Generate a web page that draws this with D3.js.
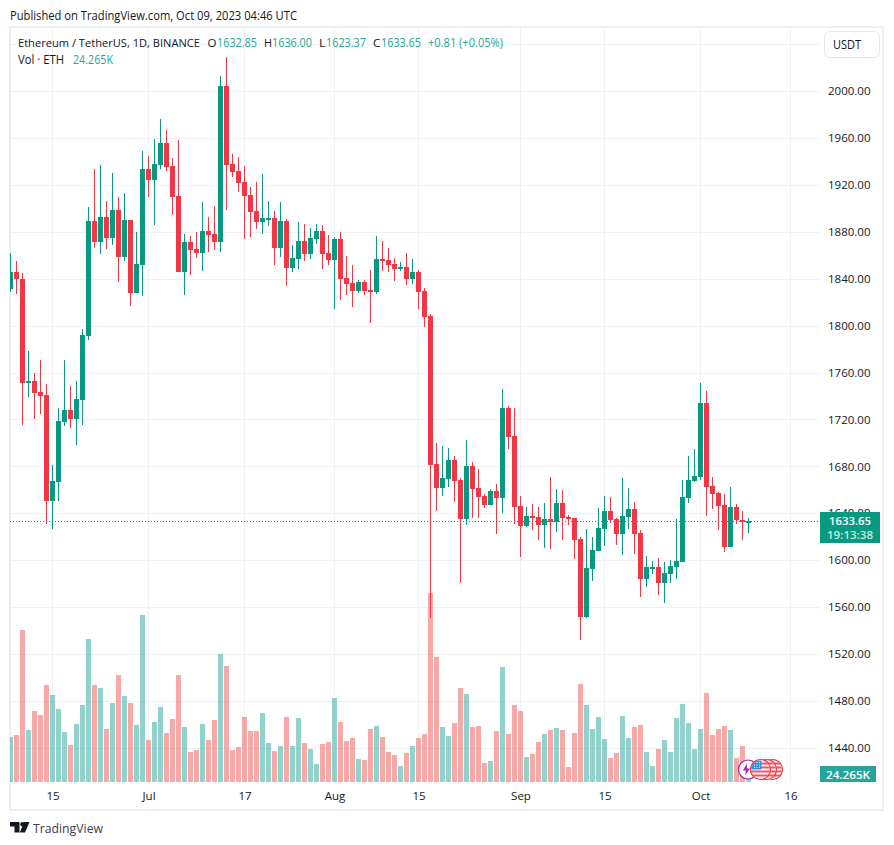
<!DOCTYPE html>
<html>
<head>
<meta charset="utf-8">
<style>
html,body{margin:0;padding:0;background:#fff;}
svg{display:block;}
text{font-family:"Open Sans","Noto Sans",sans-serif;}
</style>
<script src="https://cdn.jsdelivr.net/npm/d3@7/dist/d3.min.js"></script>
</head>
<body>
<div id="chart"></div>
<script>
const firstDay = "2023-06-08";
const opens = [1831.2,1845.7,1840.0,1751.1,1752.8,1743.4,1740.9,1650.5,1666.7,1717.9,1728.1,1720.4,1736.6,1791.1,1889.2,1871.3,1892.6,1874.7,1898.6,1858.5,1890.0,1827.8,1851.7,1933.5,1924.1,1936.9,1955.7,1936.1,1910.5,1845.7,1871.3,1865.3,1861.9,1880.7,1878.1,1871.3,2004.3,1937.8,1931.8,1922.4,1911.3,1897.7,1888.3,1890.9,1891.7,1866.2,1889.2,1849.1,1856.8,1872.1,1861.1,1873.8,1880.7,1861.9,1855.9,1873.8,1840.6,1836.3,1829.5,1837.2,1830.4,1828.7,1856.8,1855.9,1852.5,1848.3,1850.0,1839.7,1845.7,1829.5,1808.2,1682.0,1661.6,1669.2,1685.4,1668.4,1635.2,1680.3,1661.6,1654.7,1647.1,1659.0,1653.0,1729.8,1705.9,1646.2,1629.2,1637.7,1636.9,1630.0,1635.2,1632.6,1648.8,1636.9,1636.0,1618.1,1551.6,1592.5,1607.9,1626.6,1642.0,1635.2,1622.4,1636.9,1643.7,1623.2,1584.0,1592.5,1594.2,1580.6,1588.3,1594.2,1598.5,1653.0,1667.5,1670.9,1734.0,1663.3,1657.3,1647.1,1611.3,1645.4,1634.3,1632.85];
const highs = [1861.9,1855.1,1844.9,1778.4,1759.6,1770.7,1750.2,1681.2,1729.8,1770.7,1748.5,1752.8,1797.1,1901.1,1933.5,1936.9,1906.2,1930.1,1909.6,1913.0,1890.0,1879.8,1948.8,1944.6,1959.1,1976.1,1966.7,1942.9,1958.2,1878.1,1876.4,1879.8,1905.4,1892.6,1902.0,2012.8,2029.0,1946.3,1943.7,1936.1,1918.2,1922.4,1929.2,1906.2,1897.7,1905.4,1890.9,1868.7,1888.3,1886.6,1883.2,1886.6,1885.8,1877.2,1875.5,1879.8,1859.3,1851.7,1838.9,1838.9,1847.4,1876.4,1872.1,1866.2,1857.6,1854.2,1861.9,1856.8,1847.4,1832.1,1809.9,1699.9,1697.4,1695.7,1688.9,1670.1,1702.5,1683.7,1677.8,1656.4,1660.7,1665.0,1746.0,1731.5,1729.8,1654.7,1645.4,1647.9,1645.4,1648.8,1670.9,1660.7,1659.9,1638.6,1636.0,1619.8,1626.6,1619.8,1644.5,1654.7,1653.9,1636.0,1670.1,1661.6,1649.6,1625.8,1603.6,1599.4,1601.9,1598.5,1600.2,1635.2,1668.4,1688.9,1694.8,1751.1,1744.3,1670.9,1658.2,1656.4,1662.4,1647.9,1642.0,1636.0];
const lows = [1828.7,1826.9,1715.3,1739.1,1720.4,1724.7,1630.9,1626.6,1650.5,1714.5,1712.7,1698.2,1715.3,1787.7,1866.2,1861.1,1865.3,1868.7,1837.2,1855.1,1816.7,1827.8,1825.2,1909.6,1885.8,1933.5,1931.8,1894.3,1845.7,1826.1,1843.1,1857.6,1846.6,1862.8,1864.5,1862.8,1898.6,1926.7,1913.9,1873.8,1875.5,1882.4,1878.1,1884.9,1851.7,1858.5,1833.8,1845.7,1848.3,1855.1,1856.8,1869.6,1848.3,1851.7,1814.2,1821.8,1826.1,1815.9,1827.8,1826.1,1802.2,1826.9,1846.6,1845.7,1838.0,1846.6,1834.6,1835.5,1814.2,1798.8,1550.8,1642.0,1654.7,1662.4,1649.6,1580.6,1630.0,1636.0,1636.0,1644.5,1647.1,1622.4,1640.3,1694.8,1630.9,1602.8,1628.3,1625.8,1617.2,1610.4,1609.6,1624.1,1617.2,1630.0,1601.0,1532.0,1550.8,1582.3,1607.9,1612.1,1631.7,1613.0,1604.5,1626.6,1605.3,1568.7,1577.2,1588.3,1570.4,1563.6,1580.6,1584.0,1598.5,1648.8,1666.7,1668.4,1637.7,1643.7,1625.8,1607.0,1611.3,1630.9,1617.2,1623.37];
const closes = [1845.7,1840.0,1751.3,1752.8,1742.6,1740.0,1650.5,1667.5,1718.7,1728.1,1720.4,1737.4,1792.0,1889.2,1871.3,1892.6,1874.7,1898.6,1858.5,1890.0,1827.8,1852.5,1933.5,1924.1,1937.8,1955.7,1935.2,1909.6,1845.7,1871.3,1864.5,1861.9,1880.7,1877.2,1871.3,2004.3,1936.9,1931.0,1921.6,1910.5,1896.8,1888.3,1891.7,1891.7,1866.2,1889.2,1849.1,1857.6,1872.1,1861.1,1874.7,1880.7,1861.1,1855.9,1873.8,1839.7,1835.5,1829.5,1837.2,1829.5,1828.7,1856.8,1855.1,1851.7,1848.3,1850.0,1839.7,1845.7,1828.7,1807.4,1681.2,1661.6,1670.1,1685.4,1667.5,1635.2,1680.3,1660.7,1653.9,1647.1,1659.0,1653.0,1729.8,1705.1,1645.4,1629.2,1637.7,1636.0,1630.0,1635.2,1632.6,1648.8,1636.0,1635.2,1617.2,1551.6,1593.4,1608.7,1627.5,1642.0,1634.3,1622.4,1637.7,1643.7,1622.4,1584.0,1594.2,1594.2,1580.6,1589.1,1595.1,1599.4,1653.9,1668.4,1671.8,1734.0,1662.4,1656.4,1646.2,1611.3,1645.4,1634.3,1632.6,1633.65];
const volumes = [288,301,973,333,454,429,621,557,467,320,237,371,493,915,621,602,339,506,685,550,506,365,1069,269,384,480,314,403,685,352,192,205,371,269,397,819,742,205,224,416,326,326,442,250,198,230,416,230,410,250,211,115,243,256,538,384,262,282,147,141,339,358,288,192,173,102,186,230,282,307,1210,800,352,294,378,602,563,352,358,122,134,326,736,307,493,454,160,179,256,307,333,346,333,96,314,627,493,339,416,275,154,186,422,282,352,365,192,102,211,269,192,410,499,378,211,339,570,301,339,358,333,154,230,24.265];

const priceTicks = [2000,1960,1920,1880,1840,1800,1760,1720,1680,1640,1600,1560,1520,1480,1440];
const gridPrices = [2040].concat(priceTicks);
const timeTicks = ["2023-06-15","2023-07-01","2023-07-17","2023-08-01","2023-08-15","2023-09-01","2023-09-15","2023-10-01","2023-10-16"];
const timeLabels = ["15","Jul","17","Aug","15","Sep","15","Oct","16"];
const publishedText = "Published on TradingView.com, Oct 09, 2023 04:46 UTC";
const pairTitle = "Ethereum / TetherUS, 1D, BINANCE";
const ohlcLetters = ["O","H","L","C"];
const ohlcValues = ["1632.85","1636.00","1623.37","1633.65"];
const changeText = "+0.81 (+0.05%)";
const volTitle = "Vol · ETH";
const volValue = "24.265K";
const lastPrice = 1633.65;
const countdown = "19:13:38";
const currency = "USDT";

const W = 894, H = 845;
const RED = "#f23645", GREEN = "#089981";
const VOL_RED = "rgba(239,83,80,0.5)", VOL_GREEN = "rgba(38,166,154,0.5)";
const LEGEND_GREEN = "#22ab94", INK = "#131722", GRID = "#f0f1f5", FRAME = "#eeeff4";
const PLOT = {left: 10, right: 820, top: 28, bottom: 782};

const parse = d3.utcParse("%Y-%m-%d");
const start = parse(firstDay);
const days = d3.utcDays(start, d3.utcDay.offset(start, closes.length));

const x = d3.scaleUtc().domain([parse("2023-06-15"), parse("2023-10-16")]).range([52.5, 790.5]);
const y = d3.scaleLinear().domain([1440, 2000]).range([747.9, 91]);
const yVol = d3.scaleLinear().domain([0, 1210]).range([782, 593]);

const svg = d3.select("#chart").append("svg").attr("width", W).attr("height", H).attr("viewBox", `0 0 ${W} ${H}`);
svg.append("rect").attr("width", W).attr("height", H).attr("fill", "#fff");

svg.append("defs").append("clipPath").attr("id", "plot")
  .append("rect").attr("x", PLOT.left).attr("y", PLOT.top)
  .attr("width", PLOT.right - PLOT.left).attr("height", PLOT.bottom - PLOT.top);

function label(sel, str, px, py, fill, width, size, anchor, weight) {
  const t = sel.append("text").attr("x", px).attr("y", py).attr("fill", fill)
    .attr("font-size", size || 12).attr("dominant-baseline", "central").text(str);
  if (width) t.attr("textLength", width).attr("lengthAdjust", "spacingAndGlyphs");
  if (anchor) t.attr("text-anchor", anchor);
  if (weight) t.attr("font-weight", weight);
  return t;
}

// frame
svg.append("rect").attr("x", 10).attr("y", 27).attr("width", 873).attr("height", 783)
  .attr("fill", "none").attr("stroke", FRAME).attr("stroke-width", 2);

// grid
const gridG = svg.append("g").attr("shape-rendering", "crispEdges");
gridG.selectAll("line.h").data(gridPrices).join("line").attr("class", "h")
  .attr("x1", 11).attr("x2", PLOT.right)
  .attr("y1", d => Math.round(y(d)) + 0.5).attr("y2", d => Math.round(y(d)) + 0.5)
  .attr("stroke", GRID);
gridG.selectAll("line.v").data(timeTicks).join("line").attr("class", "v")
  .attr("x1", d => x(parse(d))).attr("x2", d => x(parse(d)))
  .attr("y1", PLOT.top).attr("y2", PLOT.bottom)
  .attr("stroke", GRID);

const plot = svg.append("g").attr("clip-path", "url(#plot)").attr("shape-rendering", "crispEdges");

// volume
plot.selectAll("rect.vol").data(days).join("rect").attr("class", "vol")
  .attr("x", d => x(d) - 2.5).attr("width", 5)
  .attr("y", (d, i) => Math.round(yVol(volumes[i])))
  .attr("height", (d, i) => 782 - Math.round(yVol(volumes[i])))
  .attr("fill", (d, i) => closes[i] >= opens[i] ? VOL_GREEN : VOL_RED);

// current price line
plot.append("line").attr("x1", PLOT.left).attr("x2", PLOT.right)
  .attr("y1", Math.round(y(lastPrice)) + 0.5).attr("y2", Math.round(y(lastPrice)) + 0.5)
  .attr("stroke", GREEN).attr("stroke-dasharray", "1 2");

// candles
const candle = plot.selectAll("g.c").data(days).join("g").attr("class", "c")
  .attr("fill", (d, i) => closes[i] >= opens[i] ? GREEN : RED);
candle.append("rect")
  .attr("x", d => x(d) - 0.5).attr("width", 1)
  .attr("y", (d, i) => Math.round(y(highs[i])))
  .attr("height", (d, i) => Math.round(y(lows[i])) - Math.round(y(highs[i])));
candle.append("rect")
  .attr("x", d => x(d) - 2.5).attr("width", 5)
  .attr("y", (d, i) => Math.round(y(Math.max(opens[i], closes[i]))))
  .attr("height", (d, i) => Math.max(2, Math.round(y(Math.min(opens[i], closes[i]))) - Math.round(y(Math.max(opens[i], closes[i])))));

// axes
const priceAxis = d3.axisRight(y).tickValues(priceTicks).tickSize(0).tickPadding(8).tickFormat(d3.format(".2f"));
const priceG = svg.append("g").attr("transform", `translate(${PLOT.right},0)`).call(priceAxis);
priceG.select(".domain").remove();
priceG.selectAll("text").attr("fill", INK).attr("font-size", 11.5).attr("font-family", '"Open Sans"');

const timeAxis = d3.axisBottom(x).tickValues(timeTicks.map(parse)).tickSize(0).tickPadding(10)
  .tickFormat((d, i) => timeLabels[i]);
const timeG = svg.append("g").attr("transform", `translate(0,${PLOT.bottom})`).call(timeAxis);
timeG.select(".domain").remove();
timeG.selectAll("text").attr("fill", INK).attr("font-size", 11.5).attr("font-family", '"Open Sans"');

// header
label(svg, publishedText, 10, 15, INK, 287, 12);
label(svg, pairTitle, 18, 42, INK, 182, 11);
const letterX = [207.5, 264, 319, 373], letterW = [9, 8, 6.5, 7.5], valueX = [217, 272, 326, 381];
ohlcLetters.forEach((s, i) => {
  label(svg, s, letterX[i], 42, INK, letterW[i], 11.5);
  label(svg, ohlcValues[i], valueX[i], 42, LEGEND_GREEN, 40, 12);
});
label(svg, changeText, 428, 42, LEGEND_GREEN, 75, 12);
label(svg, volTitle, 18, 59, INK, 46, 12);
label(svg, volValue, 73, 59, LEGEND_GREEN, 40, 12);

// currency button
svg.append("rect").attr("x", 824.5).attr("y", 31.5).attr("width", 55).attr("height", 26).attr("rx", 5)
  .attr("fill", "#fff").attr("stroke", "#e6e8ee");
label(svg, currency, 847, 44.5, INK, 28, 12, "middle");

// last price box
svg.append("rect").attr("x", 820).attr("y", 512).attr("width", 60).attr("height", 31).attr("fill", GREEN)
  .attr("shape-rendering", "crispEdges");
label(svg, lastPrice.toFixed(2), 850, 520.5, "#fff", 42, 11.5, "middle", 600);
label(svg, countdown, 850, 534.5, "rgba(255,255,255,0.8)", 46, 11.5, "middle", 600);

// volume box
svg.append("rect").attr("x", 820).attr("y", 766).attr("width", 56).attr("height", 16).attr("fill", "#26a69a")
  .attr("shape-rendering", "crispEdges");
label(svg, volValue, 848, 774.5, "#fff", 44, 11.5, "middle", 600);

// event markers
const markers = svg.append("g");
const purple = markers.append("g").attr("transform", "translate(748,769.5)");
purple.append("circle").attr("r", 9.5).attr("fill", "#fff").attr("stroke", "#9c27b0").attr("stroke-width", 1.2);
purple.append("path").attr("d", "M-1,-6 L-5,1 L-2,1 L-3,6 L2,-1 L-1,-1 Z").attr("fill", "#9c27b0");

const markerX = [772.5, 766.5, 760.5];
const defs = svg.select("defs");
markerX.forEach((cx, i) => {
  defs.append("clipPath").attr("id", "flag" + i).append("circle").attr("r", 9.5);
  const g = markers.append("g").attr("transform", `translate(${cx},769.5)`);
  g.append("circle").attr("r", 10).attr("fill", "#fff");
  const inner = g.append("g").attr("clip-path", `url(#flag${i})`);
  [-7, -3, 1, 5].forEach(sy => inner.append("rect").attr("x", -10).attr("y", sy).attr("width", 20).attr("height", 2).attr("fill", "#f7525f"));
  inner.append("rect").attr("x", -9).attr("y", -9).attr("width", 10).attr("height", 9).attr("fill", "#2e93e6");
  [-7, -4.5, -2].forEach(sy => [-6, -3.5, -1].forEach(sx =>
    inner.append("circle").attr("cx", sx).attr("cy", sy).attr("r", 0.6).attr("fill", "#fff")));
  g.append("circle").attr("r", 10).attr("fill", "none").attr("stroke", "#f23645").attr("stroke-width", 1.2);
});

// logo
const logo = svg.append("g").attr("fill", INK);
logo.append("path").attr("d", "M10,822 H19.5 V832.5 H14.5 V826.5 H10 Z");
logo.append("circle").attr("cx", 22.5).attr("cy", 824.2).attr("r", 2.2);
logo.append("path").attr("d", "M24,822 H29.5 L25,832.5 H19.8 Z");
label(svg, "TradingView", 33, 827.5, "#3a3e4a", 70, 13.5);
</script>
</body>
</html>
